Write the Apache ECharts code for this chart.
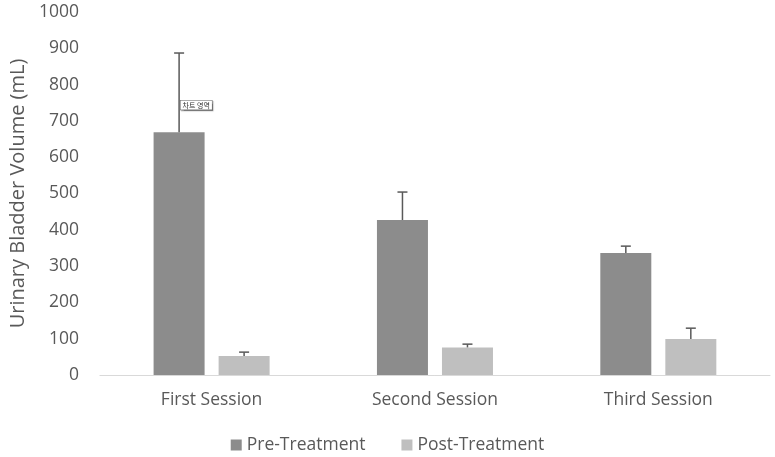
<!DOCTYPE html>
<html>
<head>
<meta charset="utf-8">
<script src="https://cdn.jsdelivr.net/npm/echarts@6/dist/echarts.min.js"></script>
<style>html,body{margin:0;padding:0;background:#fff}#c{width:775px;height:457px}</style>
</head>
<body>
<div id="c"></div>
<script>
const categories = ['First Session', 'Second Session', 'Third Session'];
const preValues = [669, 427, 336];
const postValues = [52, 76, 99];
const preErr = [218, 77, 19];
const postErr = [11, 9, 30];
const yTicks = [0, 100, 200, 300, 400, 500, 600, 700, 800, 900, 1000];

const BAR_W = 51, BAR_GAP = 14;
const GAP_PCT = (BAR_GAP / BAR_W * 100).toFixed(1) + '%';
const chart = echarts.init(document.getElementById('c'));
const FONT = '"Open Sans", "Liberation Sans", sans-serif';
const FS = 17.5;

function errSeries(name, vals, errs, sign) {
  return {
    type: 'custom', name: name + ' err', z: 5, silent: true,
    data: vals.map((v, i) => [i, v, v + errs[i]]),
    renderItem: function (params, api) {
      const off = sign * (BAR_W + BAR_GAP) / 2;
      const p0 = api.coord([api.value(0), api.value(1)]);
      const p1 = api.coord([api.value(0), api.value(2)]);
      const x = p0[0] + off;
      const style = { stroke: '#595959', lineWidth: 1.5 };
      return { type: 'group', children: [
        { type: 'line', shape: { x1: x, y1: p0[1], x2: x, y2: p1[1] }, style: style },
        { type: 'line', shape: { x1: x - 5, y1: p1[1], x2: x + 5, y2: p1[1] }, style: style }
      ]};
    }
  };
}

chart.setOption({
  animation: false,
  textStyle: { fontFamily: FONT },
  grid: { left: 97, right: 5, top: 12, bottom: 82, containLabel: false },
  legend: {
    data: ['Pre-Treatment', 'Post-Treatment'],
    top: 431, left: 'center', itemWidth: 11, itemHeight: 11, itemGap: 36,
    icon: 'rect',
    textStyle: { color: '#595959', fontSize: FS, fontFamily: FONT }
  },
  xAxis: {
    type: 'category', data: categories,
    axisLine: { lineStyle: { color: '#d9d9d9', width: 1 } },
    axisTick: { show: false },
    axisLabel: { color: '#595959', fontSize: FS, margin: 16, fontFamily: FONT }
  },
  yAxis: {
    type: 'value', min: yTicks[0], max: yTicks[yTicks.length - 1], interval: 100,
    name: 'Urinary Bladder Volume (mL)', nameLocation: 'middle', nameGap: 70,
    nameTextStyle: { color: '#595959', fontSize: 20, fontFamily: FONT },
    axisLine: { show: false }, axisTick: { show: false },
    splitLine: { show: false },
    axisLabel: { color: '#595959', fontSize: FS, margin: 21, fontFamily: FONT,
      formatter: v => String(v) }
  },
  series: [
    { name: 'Pre-Treatment', type: 'bar', data: preValues, barWidth: BAR_W,
      barGap: GAP_PCT, itemStyle: { color: '#8c8c8c' } },
    { name: 'Post-Treatment', type: 'bar', data: postValues, barWidth: BAR_W,
      barGap: GAP_PCT, itemStyle: { color: '#bfbfbf' } },
    errSeries('Pre-Treatment', preValues, preErr, -1),
    errSeries('Post-Treatment', postValues, postErr, 1)
  ],
  graphic: [{
    type: 'text', left: 180, top: 100, z: 10,
    style: { text: '차트 영역', fontSize: 7, fill: '#333', fontFamily: '"Noto Sans CJK KR"',
      backgroundColor: '#fff', borderColor: '#777', borderWidth: 0.6, padding: [1, 2],
      shadowColor: 'rgba(0,0,0,0.3)', shadowOffsetX: 1, shadowOffsetY: 1, shadowBlur: 1 }
  }]
});
</script>
</body>
</html>
